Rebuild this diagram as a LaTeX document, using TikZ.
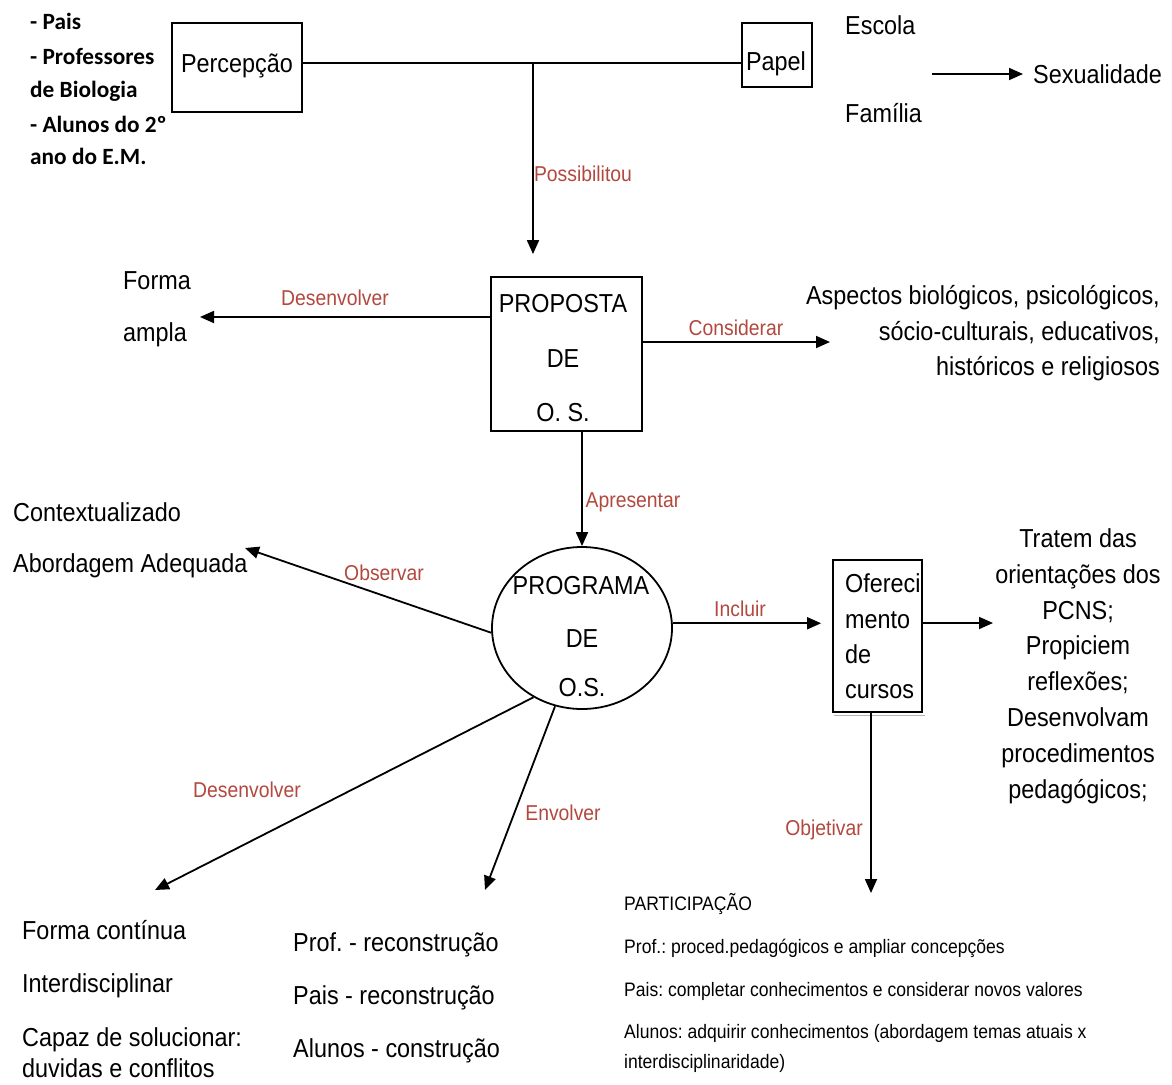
\documentclass[tikz,border=0pt]{standalone}
\usepackage{fontspec}
\setmainfont[FakeStretch=0.9]{Liberation Sans}
\newfontfamily\carlfont{Carlito}
\usetikzlibrary{arrows.meta,shapes.geometric}
\definecolor{labred}{RGB}{178,72,62}
\newcommand\fsMain{\fontsize{26}{31}\selectfont}
\newcommand\fsRed{\fontsize{21.5}{25}\selectfont}
\newcommand\fsSmall{\fontsize{19.5}{23}\selectfont}
\newcommand\fsBold{\carlfont\bfseries\fontsize{23.3}{27}\selectfont}
\frenchspacing
\begin{document}
\begin{tikzpicture}[x=1pt,y=-1pt,
  tm/.style={font=\fsMain, inner sep=0pt, text height=18.6pt, text depth=0pt},
  tr/.style={font=\fsRed, inner sep=0pt, text height=15.4pt, text depth=0pt, text=labred},
  ts/.style={font=\fsSmall, inner sep=0pt, text height=14pt, text depth=0pt, anchor=west},
  tb/.style={font=\fsBold, inner sep=0pt, text height=15pt, text depth=0pt, anchor=west},
  boxn/.style={draw, line width=1.8pt, inner sep=0pt},
  ln/.style={line width=1.8pt},
  arr/.style={line width=1.8pt, -{Triangle[length=14pt,width=12pt]}}]
\fill[white] (0,0) rectangle (1172,1084);
\useasboundingbox (0,0) rectangle (1172,1084);

% top-left list
\node[tb] (l1) at (30,22) {- Pais};
\node[tb] (l2) at (30,57) {- Professores};
\node[tb] (l3) at (30,90) {de Biologia};
\node[tb] (l4) at (30,125) {- Alunos do 2º};
\node[tb] (l5) at (30,157) {ano do E.M.};

% Percepcao / Papel
\node[boxn, minimum width=130pt, minimum height=89pt] (perc) at (237,67.5) {};
\node[tm] (perct) at (237,63) {Percepção};
\node[boxn, minimum width=70pt, minimum height=64pt] (pap) at (777,55) {};
\node[tm] (papt) at (776,61) {Papel};
\coordinate (j) at (533,63);
\draw[ln] (perc.east |- j) -- (pap.west |- j);

\node[tm, anchor=west] (esc) at (845,25) {Escola};
\node[tm, anchor=west] (fam) at (845,113) {Família};
\node[tm, anchor=west] (sex) at (1033,74) {Sexualidade};
\coordinate (sxs) at (932,74);
\draw[arr, shorten >=10pt] (sxs) -- (sex.west);

% Proposta
\node[boxn, minimum width=151pt, minimum height=154pt] (prop) at (566.5,354) {};
\node[tm] (p1) at (563,303) {PROPOSTA};
\node[tm] (p2) at (563,358) {DE};
\node[tm] (p3) at (563,412) {O. S.};
\draw[arr, shorten >=22pt] (j) -- (j |- prop.north);
\node[tr] (poss) at (583,174) {Possibilitou};

% Forma ampla
\node[tm, anchor=west] (fa1) at (123,280) {Forma};
\node[tm, anchor=west] (fa2) at (123,332) {ampla};
\coordinate (fa) at (200,317);
\draw[arr] (prop.west |- fa) -- (fa);
\node[tr] (des1) at (335,298) {Desenvolver};

% Aspectos
\coordinate (asp) at (830,342);
\draw[arr] (prop.east |- asp) -- (asp);
\node[tr] (cons) at (736,328) {Considerar};
\node[tm, anchor=east] (a1) at (1160,295) {Aspectos biológicos, psicológicos,};
\node[tm, anchor=east] (a2) at (1160,331) {sócio-culturais, educativos,};
\node[tm, anchor=east] (a3) at (1160,366) {históricos e religiosos};

% Programa
\node[draw, ellipse, line width=1.8pt, inner sep=0pt, minimum width=180pt, minimum height=162pt] (prog) at (582,628) {};
\node[tm] (g1) at (581,585) {PROGRAMA};
\node[tm] (g2) at (582,638) {DE};
\node[tm] (g3) at (582,687) {O.S.};
\draw[arr] (prog.north |- prop.south) -- (prog.north);
\node[tr] (apr) at (633,500) {Apresentar};

% Observar
\node[tm, anchor=west] (c1) at (13,512) {Contextualizado};
\node[tm, anchor=west] (c2) at (13,563) {Abordagem Adequada};
\coordinate (obs) at (245,548);
\draw[arr] (prog.183) -- (obs);
\node[tr] (obsl) at (384,573) {Observar};

% Oferecimento
\node[boxn, minimum width=89pt, minimum height=152pt] (ofe) at (877.5,636) {};
\draw[gray!60, line width=1pt] ([xshift=2pt,yshift=-2.5pt]ofe.south west) -- ([xshift=2pt,yshift=-2.5pt]ofe.south east);
\node[tm, anchor=west] (o1) at (845,583) {Ofereci};
\node[tm, anchor=west] (o2) at (845,619) {mento};
\node[tm, anchor=west] (o3) at (845,654) {de};
\node[tm, anchor=west] (o4) at (845,689) {cursos};
\draw[arr, shorten >=11pt] (prog.3) -- (prog.3 -| ofe.west);
\node[tr] (inc) at (740,609) {Incluir};

% Tratem
\coordinate (trt) at (993,623);
\draw[arr] (trt -| ofe.east) -- (trt);
\node[tm] (t1) at (1078,538) {Tratem das};
\node[tm] (t2) at (1078,574) {orientações dos};
\node[tm] (t3) at (1078,610) {PCNS;};
\node[tm] (t4) at (1078,645) {Propiciem};
\node[tm] (t5) at (1078,681) {reflexões;};
\node[tm] (t6) at (1078,717) {Desenvolvam};
\node[tm] (t7) at (1078,753) {procedimentos};
\node[tm] (t8) at (1078,789) {pedagógicos;};

% Objetivar
\coordinate (par) at (871,893);
\draw[arr] (par |- ofe.south) -- (par);
\node[tr] (obj) at (824,828) {Objetivar};
\node[ts] (q1) at (624,903) {PARTICIPAÇÃO};
\node[ts] (q2) at (624,946) {Prof.: proced.pedagógicos e ampliar concepções};
\node[ts] (q3) at (624,989) {Pais: completar conhecimentos e considerar novos valores};
\node[ts] (q4) at (624,1031) {Alunos: adquirir conhecimentos (abordagem temas atuais x};
\node[ts] (q5) at (624,1061) {interdisciplinaridade)};

% Desenvolver (lower)
\coordinate (fc) at (155,890);
\draw[arr] (prog.235) -- (fc);
\node[tr] (des2) at (247,790) {Desenvolver};
\node[tm, anchor=west] (f1) at (22,930) {Forma contínua};
\node[tm, anchor=west] (f2) at (22,983) {Interdisciplinar};
\node[tm, anchor=west] (f3) at (22,1037) {Capaz de solucionar:};
\node[tm, anchor=west] (f4) at (22,1068) {duvidas e conflitos};

% Envolver
\coordinate (pr) at (485,890);
\draw[arr] (prog.251) -- (pr);
\node[tr] (env) at (563,813) {Envolver};
\node[tm, anchor=west] (r1) at (293,942) {Prof. - reconstrução};
\node[tm, anchor=west] (r2) at (293,995) {Pais - reconstrução};
\node[tm, anchor=west] (r3) at (293,1048) {Alunos - construção};
\end{tikzpicture}
\end{document}
